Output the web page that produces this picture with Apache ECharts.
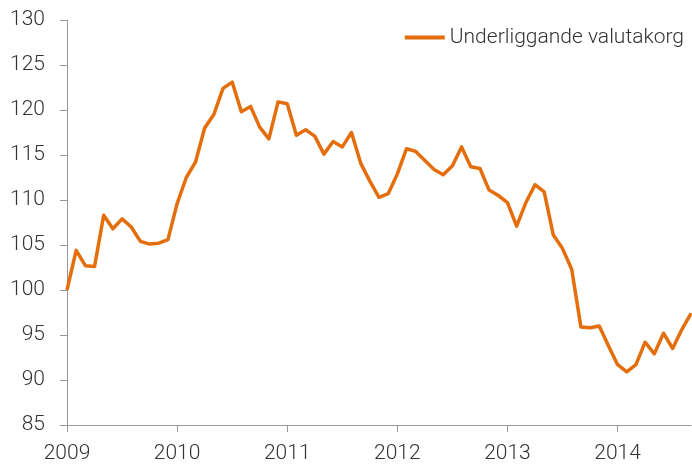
<!DOCTYPE html>
<html>
<head>
<meta charset="utf-8">
<script src="https://cdn.jsdelivr.net/npm/echarts@6/dist/echarts.min.js"></script>
<style>
  html, body { margin: 0; padding: 0; background: #fff; }
  #chart { width: 692px; height: 464px; }
</style>
</head>
<body>
<div id="chart"></div>
<script>
// monthly index, jan 2009 .. sep 2014
const startYear = 2009
const seriesName = 'Underliggande valutakorg'
const values = [
  100.0, 104.4, 102.7, 102.6, 108.3, 106.8, 107.9, 107.0, 105.4, 105.1, 105.2, 105.6,
  109.6, 112.5, 114.2, 118.0, 119.5, 122.4, 123.1, 119.8, 120.4, 118.1, 116.8, 120.9,
  120.7, 117.2, 117.8, 117.1, 115.1, 116.5, 115.9, 117.5, 114.1, 112.1, 110.3, 110.7,
  112.9, 115.7, 115.4, 114.4, 113.4, 112.8, 113.8, 115.9, 113.7, 113.5, 111.1, 110.5,
  109.7, 107.1, 109.7, 111.7, 110.9, 106.1, 104.6, 102.3, 95.9, 95.8, 96.0, 93.8,
  91.7, 90.9, 91.7, 94.2, 92.9, 95.2, 93.5, 95.6, 97.4,
]
const months = values.map((v, i) => `${startYear + Math.floor(i / 12)}-${String(i % 12 + 1).padStart(2, '0')}`)

const fontFamily = 'Roboto'
const textColor = '#333'
const lineColor = '#E56E0C'

const chart = echarts.init(document.getElementById('chart'))
chart.setOption({
  animation: false,
  textStyle: { fontFamily },
  grid: { left: 67, right: 1, top: 20, bottom: 39 },
  legend: {
    top: 22,
    right: 3,
    icon: 'path://M0,0 L40,0 L40,4 L0,4 Z',
    itemWidth: 40,
    itemHeight: 4,
    itemGap: 4,
    textStyle: { fontSize: 21, fontWeight: 300, color: textColor, fontFamily },
    data: [seriesName],
  },
  xAxis: {
    type: 'category',
    data: months,
    boundaryGap: false,
    axisLine: { lineStyle: { color: '#999', width: 1 } },
    axisTick: {
      length: 7,
      interval: (i) => i % 12 === 0,
      lineStyle: { color: '#999' },
    },
    axisLabel: {
      interval: (i) => i % 12 === 0,
      formatter: (v) => v.slice(0, 4),
      fontSize: 21,
      fontWeight: 300,
      color: textColor,
      margin: 18,
    },
    splitLine: { show: false },
  },
  yAxis: {
    type: 'value',
    min: 85,
    max: 130,
    interval: 5,
    axisLine: { show: true, lineStyle: { color: '#999', width: 1 } },
    axisTick: { show: true, length: 7, lineStyle: { color: '#999' } },
    axisLabel: { fontSize: 21, fontWeight: 300, color: textColor, margin: 22 },
    splitLine: { show: false },
  },
  series: [{
    name: seriesName,
    type: 'line',
    data: values,
    symbol: 'none',
    lineStyle: { color: lineColor, width: 3.5, join: 'round' },
    itemStyle: { color: lineColor },
  }],
})
</script>
</body>
</html>
